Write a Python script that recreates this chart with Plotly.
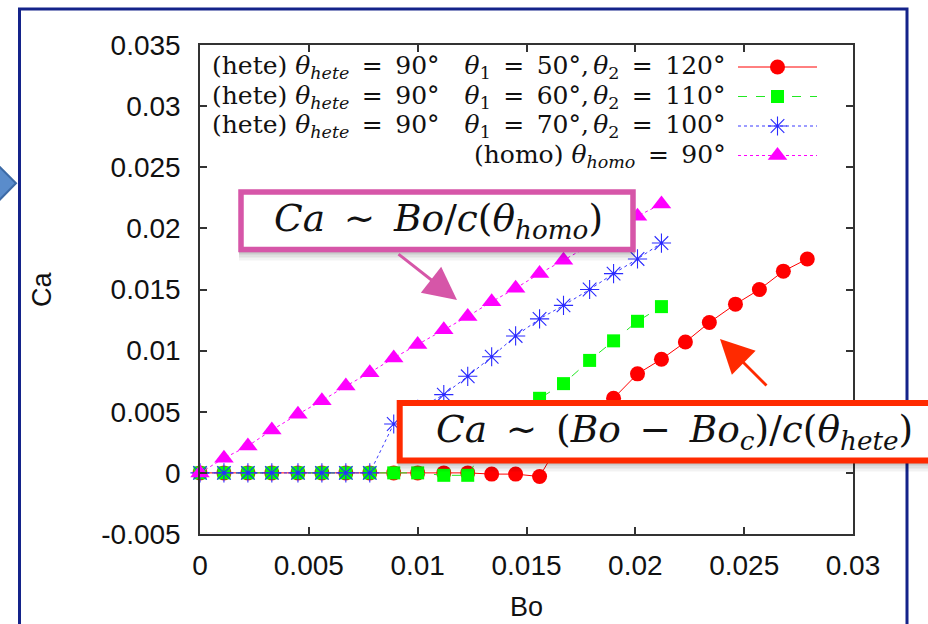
import plotly.graph_objects as go

# ---- data: Bo (Bond number) vs Ca (capillary number) ----
bo = [0.0000, 0.0011, 0.0022, 0.0033, 0.0045, 0.0056, 0.0067, 0.0078, 0.0089,
      0.0100, 0.0112, 0.0123, 0.0134, 0.0145, 0.0156, 0.0167, 0.0179, 0.0190,
      0.0201, 0.0212, 0.0223, 0.0234, 0.0246, 0.0257, 0.0268, 0.0279]

ca_hete_50_120 = [0, 0, 0, 0, 0, 0, 0, 0, 0, 0, 0, 0,
                  -0.0001, -0.0001, -0.0003, 0.0030, 0.0046, 0.0061, 0.0081,
                  0.0093, 0.0107, 0.0123, 0.0138, 0.0150, 0.0165, 0.0175]
ca_hete_60_110 = [0, 0, 0, 0, 0, 0, 0, 0, 0, 0, -0.0002, -0.0002,
                  0.0030, 0.0046, 0.0061, 0.0073, 0.0092, 0.0108, 0.0124, 0.0136]
ca_hete_70_100 = [0, 0, 0, 0, 0, 0, 0, 0, 0.0040, 0.0052, 0.0064, 0.0079,
                  0.0095, 0.0112, 0.0126, 0.0137, 0.0150, 0.0163, 0.0175, 0.0188]
ca_homo_90 = [0, 0.0012, 0.0022, 0.0035, 0.0048, 0.0059, 0.0071, 0.0082, 0.0094,
              0.0105, 0.0117, 0.0128, 0.0140, 0.0151, 0.0163, 0.0174, 0.0186,
              0.0197, 0.0210, 0.0220]

x_ticks = [0, 0.005, 0.01, 0.015, 0.02, 0.025, 0.03]
x_labels = ["0", "0.005", "0.01", "0.015", "0.02", "0.025", "0.03"]
y_ticks = [-0.005, 0, 0.005, 0.01, 0.015, 0.02, 0.025, 0.03, 0.035]
y_labels = ["-0.005", "0", "0.005", "0.01", "0.015", "0.02", "0.025", "0.03", "0.035"]

EN = "\u2002"   # wide math spacing around relations
TH = "\u2006"   # small space after commas
EM = "\u2003"
legend_labels = [
    f"(hete) <i>θ</i><sub><i>hete</i></sub>{EN}={EN}90°{EM}<i>θ</i><sub>1</sub>{EN}={EN}50°,{TH}<i>θ</i><sub>2</sub>{EN}={EN}120°",
    f"(hete) <i>θ</i><sub><i>hete</i></sub>{EN}={EN}90°{EM}<i>θ</i><sub>1</sub>{EN}={EN}60°,{TH}<i>θ</i><sub>2</sub>{EN}={EN}110°",
    f"(hete) <i>θ</i><sub><i>hete</i></sub>{EN}={EN}90°{EM}<i>θ</i><sub>1</sub>{EN}={EN}70°,{TH}<i>θ</i><sub>2</sub>{EN}={EN}100°",
    f"(homo) <i>θ</i><sub><i>homo</i></sub>{EN}={EN}90°",
]

# ---- page geometry ----
W, H = 928, 624
ML, MR, MT, MB = 200, 75, 45, 90
PW, PH = W - ML - MR, H - MT - MB


def fx(p):
    """pixel column -> paper x"""
    return (p - ML) / PW


def fy(p):
    """pixel row -> paper y"""
    return (H - MB - p) / PH


styles = [
    dict(color="#ff0000", dash="solid", symbol="circle", size=15,
         mcolor="#ff0000", mline=0),
    dict(color="#22e822", dash="dash", symbol="square", size=13,
         mcolor="#00ff00", mline=0),
    dict(color="#3a3aff", dash="dot", symbol="asterisk-open", size=16,
         mcolor="#2a2aff", mline=1.1),
    dict(color="#ff00ff", dash="dot", symbol="triangle-up", size=17,
         mcolor="#ff00ff", mline=0),
]
series = [ca_hete_50_120, ca_hete_60_110, ca_hete_70_100, ca_homo_90]

fig = go.Figure()
for ys, st in zip(series, styles):
    fig.add_trace(go.Scatter(
        x=bo[:len(ys)], y=ys, mode="lines+markers",
        line=dict(color=st["color"], width=1, dash=st["dash"]),
        marker=dict(symbol=st["symbol"], size=st["size"], color=st["mcolor"],
                    line=dict(width=st["mline"], color=st["mcolor"])),
        showlegend=False, cliponaxis=False,
    ))

# ---- key drawn gnuplot-style: right-aligned text, sample on the right ----
rows = [67, 96.5, 126, 155.5]
for lab, st, r in zip(legend_labels, styles, rows):
    fig.add_trace(go.Scatter(
        x=[fx(738), fx(817)], y=[fy(r), fy(r)], mode="lines",
        line=dict(color=st["color"], width=1, dash=st["dash"]),
        xaxis="x2", yaxis="y2", showlegend=False, hoverinfo="skip"))
    fig.add_trace(go.Scatter(
        x=[fx(777.5)], y=[fy(r)], mode="markers",
        marker=dict(symbol=st["symbol"], size=st["size"], color=st["mcolor"],
                    line=dict(width=st["mline"], color=st["mcolor"])),
        xaxis="x2", yaxis="y2", showlegend=False, hoverinfo="skip"))

sans = "Liberation Sans, Arial, sans-serif"
tick_font = dict(family=sans, size=28, color="#111")
axis_common = dict(showgrid=False, zeroline=False, showline=True, linecolor="#333",
                   linewidth=1.5, ticks="inside", ticklen=7, tickwidth=1.5,
                   tickcolor="#333", mirror="ticks", tickfont=tick_font)

fig.update_layout(
    width=W, height=H,
    margin=dict(l=ML, r=MR, t=MT, b=MB),
    paper_bgcolor="white", plot_bgcolor="white",
    xaxis=dict(range=[0, 0.03], tickvals=x_ticks, ticktext=x_labels,
               ticklabelstandoff=6, **axis_common),
    yaxis=dict(range=[-0.005, 0.035], tickvals=y_ticks, ticktext=y_labels,
               ticklabelstandoff=12, **axis_common),
    xaxis2=dict(range=[0, 1], overlaying="x", visible=False),
    yaxis2=dict(range=[0, 1], overlaying="y", visible=False),
)

serif = "DejaVu Serif, serif"
ann = []
# axis titles
ann.append(dict(x=fx(526), y=fy(607), xref="paper", yref="paper", text="Bo",
                xanchor="center", yanchor="middle", showarrow=False,
                font=dict(family=sans, size=27, color="#111")))
ann.append(dict(x=fx(42), y=fy(290), xref="paper", yref="paper", text="Ca", textangle=-90,
                xanchor="center", yanchor="middle", showarrow=False,
                font=dict(family=sans, size=27, color="#111")))
# key text
for lab, r in zip(legend_labels, rows):
    ann.append(dict(x=fx(728), y=fy(r), xref="paper", yref="paper", text=lab,
                    xanchor="right", yanchor="middle", showarrow=False,
                    font=dict(family=serif, size=25, color="#111")))

PINK = "#d656a8"
RED = "#ff2a00"

# scaling-law callouts
ann.append(dict(x=fx(438), y=fy(220), xref="paper", yref="paper",
                text=f"<i>Ca</i>{EN}∼{EN}<i>Bo</i>/<i>c</i>(<i>θ</i><sub><i>homo</i></sub>)",
                xanchor="center", yanchor="middle",
                showarrow=False, font=dict(family=serif, size=37.5, color="#111")))
ann.append(dict(x=fx(674), y=fy(431), xref="paper", yref="paper",
                text=f"<i>Ca</i>{EN}∼{EN}(<i>Bo</i>{EN}−{EN}<i>Bo</i><sub><i>c</i></sub>)/<i>c</i>(<i>θ</i><sub><i>hete</i></sub>)",
                xanchor="center", yanchor="middle",
                showarrow=False, font=dict(family=serif, size=37.5, color="#111")))
# arrows
ann.append(dict(x=fx(457), y=fy(300), xref="paper", yref="paper", text="",
                showarrow=True, ax=397 - 457, ay=253 - 300, arrowhead=2,
                arrowsize=2.2, arrowwidth=3, arrowcolor=PINK))
ann.append(dict(x=fx(720), y=fy(339), xref="paper", yref="paper", text="",
                showarrow=True, ax=768 - 720, ay=387 - 339, arrowhead=2,
                arrowsize=2.4, arrowwidth=2.8, arrowcolor=RED))
fig.update_layout(annotations=ann)

shapes = []
# slide frame
shapes.append(dict(type="rect", xref="paper", yref="paper",
                   x0=fx(19.5), x1=fx(907), y0=fy(9), y1=fy(720),
                   line=dict(color="#14238a", width=3), layer="below"))
# chevron at the left edge of the slide
shapes.append(dict(type="path", xref="paper", yref="paper",
                   path="M {} {} L {} {} L {} {} Z".format(
                       fx(-40), fy(127), fx(16), fy(183.3), fx(-40), fy(240)),
                   fillcolor="#5a8ccb", line=dict(color="#3c6aa6", width=2), layer="below"))


def callout(x0, y0, x1, y1, color, lw):
    out = []
    for off, op in [(11, 0.05), (8, 0.07), (5, 0.09), (3, 0.1)]:
        out.append(dict(type="rect", xref="paper", yref="paper",
                        x0=fx(x0 - 2), x1=fx(x1 + 2), y0=fy(y0 + off), y1=fy(y1 + off),
                        fillcolor="rgba(0,0,0,{})".format(op), line=dict(width=0), layer="above"))
    out.append(dict(type="rect", xref="paper", yref="paper",
                    x0=fx(x0), x1=fx(x1), y0=fy(y0), y1=fy(y1),
                    fillcolor="white", line=dict(color=color, width=lw), layer="above"))
    return out


shapes += callout(241, 192, 633, 249.5, PINK, 5.5)
shapes += callout(399.7, 403, 960, 460.5, RED, 6)
fig.update_layout(shapes=shapes)

fig.write_html("out.html")
